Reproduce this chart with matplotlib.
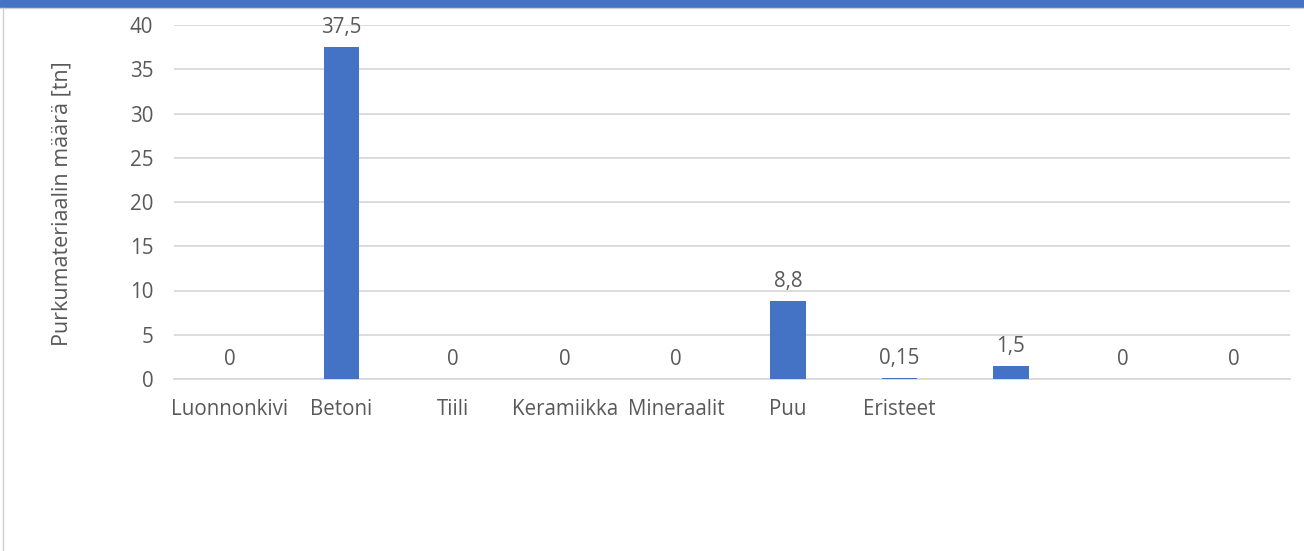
import matplotlib
matplotlib.use("Agg")
import matplotlib.pyplot as plt
from matplotlib.patches import Rectangle
from matplotlib.lines import Line2D

categories = ["Luonnonkivi", "Betoni", "Tiili", "Keramiikka", "Mineraalit", "Puu", "Eristeet", "", "", ""]
values = [0, 37.5, 0, 0, 0, 8.8, 0.15, 1.5, 0, 0]
value_labels = ["0", "37,5", "0", "0", "0", "8,8", "0,15", "1,5", "0", "0"]
yticks = [0, 5, 10, 15, 20, 25, 30, 35, 40]

plt.rcParams['font.family'] = ['Open Sans', 'DejaVu Sans']
txt = "#595959"
blue = "#4472C4"
grid = "#D9D9D9"

fig = plt.figure(figsize=(13.04, 5.51), dpi=100)
# top band and light border (top + left only)
fig.patches.append(Rectangle((0, 1 - 7/551), 1, 7/551, transform=fig.transFigure, color=blue, zorder=0))
fig.lines.append(Line2D([0, 1], [1 - 8/551, 1 - 8/551], transform=fig.transFigure, color="#D0D0D0", lw=1))
fig.lines.append(Line2D([2.5/1304, 2.5/1304], [0, 1 - 8/551], transform=fig.transFigure, color="#D0D0D0", lw=1))

ax = fig.add_axes([174/1304, 1 - 379/551, 1116/1304, 354/551])
x = range(len(categories))
ax.bar(x, values, width=0.32, color=blue, zorder=3)
ax.set_xlim(-0.5, len(categories) - 0.5)
ax.set_ylim(0, 40)
ax.set_yticks(yticks)
ax.set_yticklabels([str(t) for t in yticks])
ax.set_xticks(list(x))
ax.set_xticklabels(categories)
ax.tick_params(axis='both', length=0, colors=txt, labelsize=14.8)
ax.tick_params(axis='x', pad=14.5)
ax.tick_params(axis='y', pad=15)
for s in ["top", "right", "left"]:
    ax.spines[s].set_visible(False)
ax.spines["bottom"].set_color(grid)
ax.spines["bottom"].set_linewidth(1.3)
ax.yaxis.grid(True, color=grid, lw=1.3, zorder=0)
ax.set_axisbelow(True)

for xi, v, lab in zip(x, values, value_labels):
    ax.annotate(lab, (xi, v), xytext=(0, 6.5), textcoords="offset points",
                ha="center", va="bottom", fontsize=14.8, color=txt)

ax.set_ylabel("Purkumateriaalin määrä [tn]", fontsize=15.5, color=txt, va="center")
ax.yaxis.set_label_coords((62 - 174) / 1116, (379 - 204) / 354)

fig.savefig("out.png", dpi=100)
